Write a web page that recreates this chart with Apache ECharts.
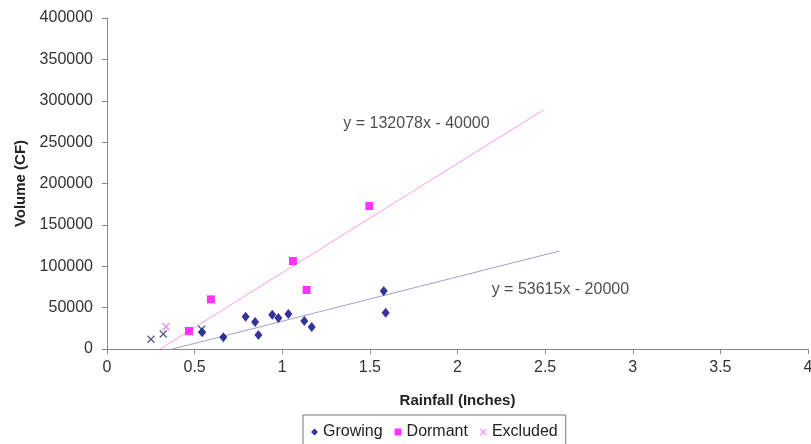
<!DOCTYPE html>
<html>
<head>
<meta charset="utf-8">
<script src="https://cdn.jsdelivr.net/npm/echarts@6/dist/echarts.min.js"></script>
<style>
  html, body { margin: 0; padding: 0; background: #fff; }
  #chart { width: 811px; height: 444px; }
</style>
</head>
<body>
<div id="chart"></div>
<script>
// Rainfall (inches) vs runoff volume (cubic feet)
const growing = [
  [0.543, 20200], [0.664, 14100], [0.791, 39000], [0.845, 32600],
  [0.864, 16900], [0.943, 41500], [0.978, 37500], [1.035, 42300],
  [1.126, 33800], [1.168, 26600], [1.579, 70100], [1.590, 43900]
];
const dormant = [
  [0.468, 21800], [0.593, 60000], [1.061, 106300], [1.139, 71300], [1.497, 172800]
];
// Excluded events; colour shows the season they belong to
const excluded = [
  [0.251, 11700, 'growing'], [0.321, 18100, 'growing'],
  [0.540, 23800, 'growing'], [0.337, 26900, 'dormant']
];

// Fitted trendlines: slope, intercept, drawn x-range, label position
const dormantFit = { slope: 132078, intercept: -40000, from: 0.303, to: 2.49, labelAt: [1.766, 272800] };
const growingFit = { slope: 53615, intercept: -20000, from: 0.373, to: 2.58, labelAt: [2.587, 72100] };

const xTicks = { min: 0, max: 4, step: 0.5 };
const yTicks = { min: 0, max: 400000, step: 50000 };

const NAVY = '#000080';
const MAGENTA = '#ff00ff';
const X_NAVY = '#33336e';
const X_PINK = '#ff66dd';
const CROSS = 'path://M0,1.2L1.2,0L5,3.8L8.8,0L10,1.2L6.2,5L10,8.8L8.8,10L5,6.2L1.2,10L0,8.8L3.8,5Z';
const FONT = '"Liberation Sans", Arial, sans-serif';

function fitLine(fit) {
  return [fit.from, fit.to].map(x => [x, fit.slope * x + fit.intercept]);
}
function eqText(fit) {
  return 'y = ' + fit.slope + 'x - ' + Math.abs(fit.intercept);
}
function eqLabel(fit) {
  return {
    type: 'scatter', data: [fit.labelAt], silent: true, z: 5,
    symbol: 'circle', symbolSize: 2, itemStyle: { color: 'rgba(0,0,0,0)' },
    label: {
      show: true, position: 'inside', formatter: eqText(fit),
      fontFamily: FONT, fontSize: 16, color: '#222'
    }
  };
}

const chart = echarts.init(document.getElementById('chart'));
chart.setOption({
  animation: false,
  backgroundColor: '#ffffff',
  textStyle: { fontFamily: FONT },
  grid: { left: 107, right: 3, top: 18, bottom: 95, containLabel: false, outerBoundsMode: 'none' },
  xAxis: {
    type: 'value', min: xTicks.min, max: xTicks.max, interval: xTicks.step,
    name: 'Rainfall (Inches)', nameLocation: 'middle', nameGap: 44,
    nameTextStyle: { fontFamily: FONT, fontSize: 15, fontWeight: 'bold', color: '#222' },
    axisLine: { show: true, lineStyle: { color: '#888', width: 1 } },
    axisTick: { show: true, length: 5, lineStyle: { color: '#888' } },
    axisLabel: { fontFamily: FONT, fontSize: 16, color: '#333', margin: 11, showMaxLabel: true },
    splitLine: { show: false }
  },
  yAxis: {
    type: 'value', min: yTicks.min, max: yTicks.max, interval: yTicks.step,
    name: 'Volume (CF)', nameLocation: 'middle', nameGap: 79, nameRotate: 90,
    nameTextStyle: { fontFamily: FONT, fontSize: 15, fontWeight: 'bold', color: '#222' },
    axisLine: { show: true, lineStyle: { color: '#888', width: 1 } },
    axisTick: { show: true, length: 5, lineStyle: { color: '#888' } },
    axisLabel: { fontFamily: FONT, fontSize: 16, color: '#333', margin: 14, formatter: v => String(v) },
    splitLine: { show: false }
  },
  legend: {
    left: 303, top: 415,
    padding: [9, 8, 6, 8],
    itemGap: 12, itemWidth: 7, itemHeight: 7,
    borderColor: '#777', borderWidth: 1,
    textStyle: { fontFamily: FONT, fontSize: 16, color: '#222', padding: [0, 0, 0, 0] },
    data: [
      { name: 'Growing', icon: 'diamond', itemStyle: { color: NAVY } },
      { name: 'Dormant', icon: 'rect', itemStyle: { color: MAGENTA } },
      { name: 'Excluded', icon: CROSS, itemStyle: { color: X_PINK } }
    ]
  },
  series: [
    {
      name: 'Dormant fit', type: 'line', data: fitLine(dormantFit),
      symbol: 'none', silent: true, z: 1,
      lineStyle: { color: '#ff99ee', width: 1 }
    },
    {
      name: 'Growing fit', type: 'line', data: fitLine(growingFit),
      symbol: 'none', silent: true, z: 1,
      lineStyle: { color: '#9fa0d0', width: 1 }
    },
    eqLabel(dormantFit),
    eqLabel(growingFit),
    {
      name: 'Growing', type: 'scatter', data: growing,
      symbol: 'diamond', symbolSize: [8, 10], z: 3,
      itemStyle: { color: NAVY }
    },
    {
      name: 'Dormant', type: 'scatter', data: dormant,
      symbol: 'rect', symbolSize: 8, z: 3,
      itemStyle: { color: MAGENTA }
    },
    {
      name: 'Excluded', type: 'scatter', z: 4,
      symbol: CROSS, symbolSize: 8,
      data: excluded.map(d => ({
        value: [d[0], d[1]],
        itemStyle: { color: d[2] === 'dormant' ? X_PINK : X_NAVY }
      })),
      itemStyle: { color: X_PINK }
    }
  ]
});
</script>
</body>
</html>
